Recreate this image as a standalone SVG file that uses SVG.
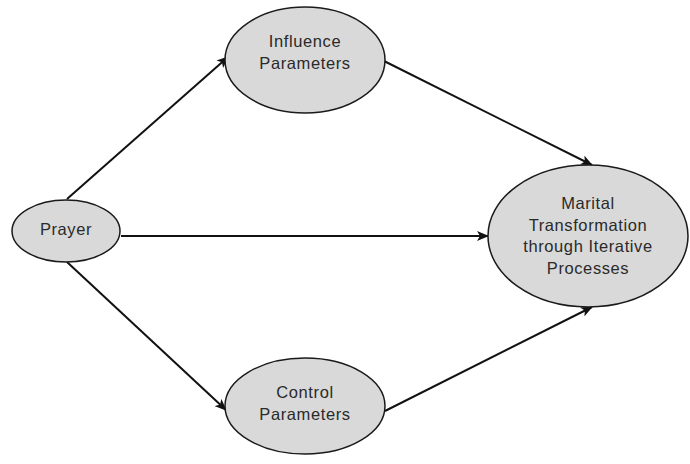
<svg xmlns="http://www.w3.org/2000/svg" width="690" height="464" viewBox="0 0 690 464">
<style>
.node ellipse{fill:#d9d9d9;stroke:#1a1a1a;stroke-width:1.5}
.node text{font-family:"Liberation Sans",Arial,sans-serif;font-size:16.5px;letter-spacing:0.6px;fill:#2a2a2a;text-anchor:middle}
.edges line{stroke:#111;stroke-width:2}
</style>
<defs>
<marker id="ah" viewBox="0 0 12 10" refX="11" refY="5" markerWidth="12" markerHeight="10" markerUnits="userSpaceOnUse" orient="auto">
<path d="M0,0 L12,5 L0,10 L3,5 Z" fill="#111"/>
</marker>
</defs>
<rect width="690" height="464" fill="#fff"/>
<g class="edges">
<line x1="67" y1="199" x2="228" y2="57" marker-end="url(#ah)"/>
<line x1="121" y1="236" x2="488" y2="236" marker-end="url(#ah)"/>
<line x1="67" y1="262" x2="226" y2="410" marker-end="url(#ah)"/>
<line x1="384" y1="61" x2="592" y2="165" marker-end="url(#ah)"/>
<line x1="385" y1="411" x2="592" y2="307" marker-end="url(#ah)"/>
</g>
<g id="prayer" class="node">
<ellipse cx="66" cy="231" rx="54" ry="31"/>
<text x="66" y="235">Prayer</text>
</g>
<g id="influence" class="node">
<ellipse cx="305" cy="60" rx="80" ry="53"/>
<text x="305" y="47">Influence</text>
<text x="305" y="69">Parameters</text>
</g>
<g id="control" class="node">
<ellipse cx="305" cy="406" rx="80" ry="48"/>
<text x="305" y="398">Control</text>
<text x="305" y="420">Parameters</text>
</g>
<g id="marital" class="node">
<ellipse cx="588" cy="236" rx="100" ry="71"/>
<text x="588" y="209">Marital</text>
<text x="588" y="231">Transformation</text>
<text x="588" y="252">through Iterative</text>
<text x="588" y="274">Processes</text>
</g>
</svg>
